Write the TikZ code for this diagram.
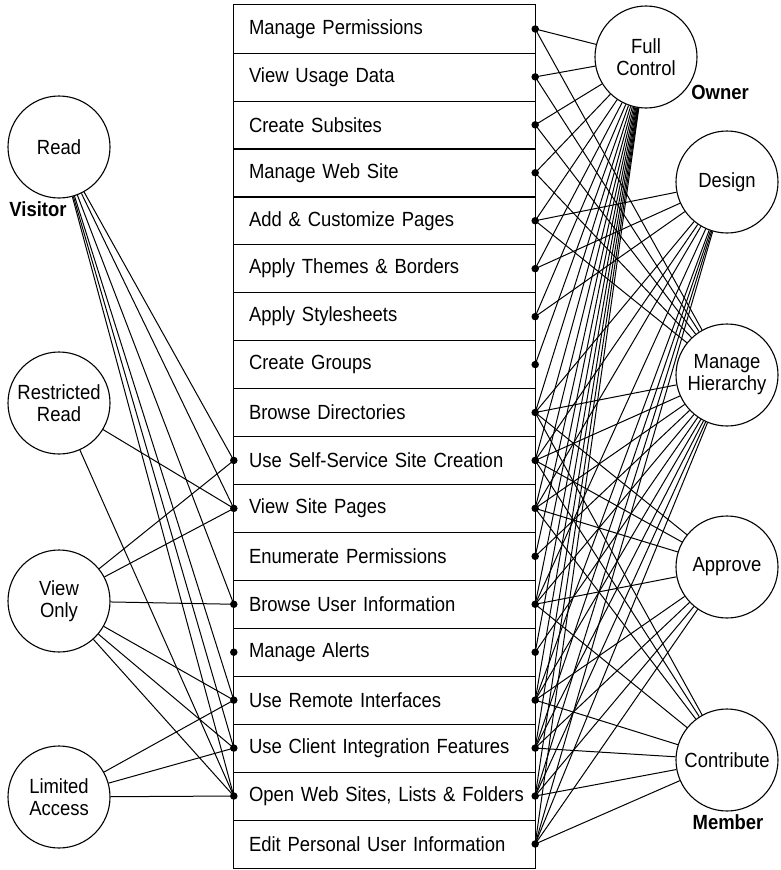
\documentclass[tikz,border=0pt]{standalone}
\usepackage{fontspec}
\setmainfont{Liberation Sans}
\newfontfamily\narrowsans[FakeStretch=0.9]{Liberation Sans}
\begin{document}
\begin{tikzpicture}[x=1pt,y=-1pt,
  role/.style={draw, circle, minimum size=102pt, inner sep=0pt, align=center,
    font=\narrowsans\fontsize{20.5}{22}\selectfont, line width=1.1pt},
  perm/.style={rectangle, minimum height=47.94pt, text width=271pt,
    inner xsep=15pt, inner ysep=0pt, align=left,
    font=\narrowsans\fontsize{20.5}{22}\selectfont},
  frame/.style={line width=1.1pt},
  group/.style={font=\narrowsans\bfseries\fontsize{20.5}{22}\selectfont},
  link/.style={line width=1pt},
  pin/.style={circle, fill, inner sep=0pt, minimum size=7.5pt}
]
\useasboundingbox (0,0) rectangle (780,870);

% permission column
\node[perm] (r1)  at (384.5, 28.97)  {Manage Permissions};
\node[perm] (r2)  at (384.5, 76.91)  {View Usage Data};
\node[perm] (r3)  at (384.5, 124.85) {Create Subsites};
\node[perm] (r4)  at (384.5, 172.79) {Manage Web Site};
\node[perm] (r5)  at (384.5, 220.73) {Add \& Customize Pages};
\node[perm] (r6)  at (384.5, 268.67) {Apply Themes \& Borders};
\node[perm] (r7)  at (384.5, 316.61) {Apply Stylesheets};
\node[perm] (r8)  at (384.5, 364.55) {Create Groups};
\node[perm] (r9)  at (384.5, 412.49) {Browse Directories};
\node[perm] (r10) at (384.5, 460.43) {\mbox{Use Self-Service Site Creation}};
\node[perm] (r11) at (384.5, 508.37) {View Site Pages};
\node[perm] (r12) at (384.5, 556.31) {Enumerate Permissions};
\node[perm] (r13) at (384.5, 604.25) {Browse User Information};
\node[perm] (r14) at (384.5, 652.19) {Manage Alerts};
\node[perm] (r15) at (384.5, 700.13) {Use Remote Interfaces};
\node[perm] (r16) at (384.5, 748.07) {\mbox{Use Client Integration Features}};
\node[perm] (r17) at (384.5, 796.01) {\mbox{Open Web Sites, Lists \& Folders}};
\node[perm] (r18) at (384.5, 843.95) {\mbox{Edit Personal User Information}};

% outline of the column and row separators
\draw[frame] (r1.north west) rectangle (r18.south east);
\foreach \i in {1,...,17} \draw[frame] (r\i.south west) -- (r\i.south east);

% left-hand permission levels
\node[role] (read)    at (59,147) {Read};
\node[role] (rread)   at (59,403) {Restricted\\Read};
\node[role] (vonly)   at (59,601) {View\\Only};
\node[role] (limited) at (59,797) {Limited\\Access};

% right-hand permission levels
\node[role] (full)    at (646,57)  {Full\\Control};
\node[role] (design)  at (727,182) {Design};
\node[role] (hier)    at (727,375) {Manage\\Hierarchy};
\node[role] (approve) at (727,567) {Approve};
\node[role] (contrib) at (727,760) {Contribute};

% group names
\node[group] (visitor) at (38,209)  {Visitor};
\node[group] (owner)   at (720,92)  {Owner};
\node[group] (member)  at (728,822) {Member};

% left connectors
\foreach \i in {10,11,13,15,16,17} \draw[link] (read) -- (r\i.west);
\foreach \i in {11,17}             \draw[link] (rread) -- (r\i.west);
\foreach \i in {10,11,13,15,16,17} \draw[link] (vonly) -- (r\i.west);
\foreach \i in {15,16,17}          \draw[link] (limited) -- (r\i.west);

% right connectors
\foreach \i in {1,...,18} \draw[link] (r\i.east) -- (full);
\foreach \i in {5,6,7,9,10,11,13,15,16,17,18} \draw[link] (r\i.east) -- (design);
\foreach \i in {1,2,3,4,5,9,10,11,12,13,14,15,16,17,18} \draw[link] (r\i.east) -- (hier);
\foreach \i in {9,10,11,13,15,16,17,18} \draw[link] (r\i.east) -- (approve);
\foreach \i in {9,10,11,13,15,16,17,18} \draw[link] (r\i.east) -- (contrib);

% connection dots
\foreach \i in {10,11,13,14,15,16,17} \node[pin] (lp\i) at (r\i.west) {};
\foreach \i in {1,...,18} \node[pin] (rp\i) at (r\i.east) {};
\end{tikzpicture}
\end{document}
